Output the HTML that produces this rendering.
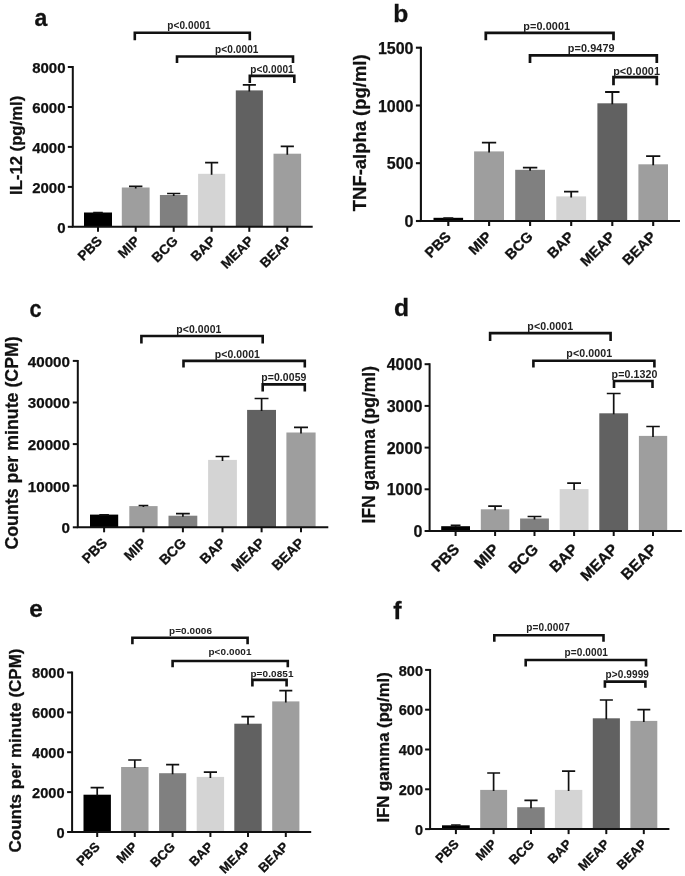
<!DOCTYPE html>
<html><head><meta charset="utf-8"><title>Figure</title>
<style>html,body{margin:0;padding:0;background:#fff}</style></head>
<body>
<svg width="685" height="876" viewBox="0 0 685 876" style="display:block">
<rect width="685" height="876" fill="#fff"/>
<g><text transform="translate(34.5,26) scale(1,1)" font-family="'Liberation Sans', sans-serif" font-weight="bold" font-size="23" fill="#111" stroke="#111" stroke-width="0.3">a</text>
<text transform="translate(22.2,145.4) rotate(-90)" text-anchor="middle" font-family="'Liberation Sans', sans-serif" font-weight="bold" font-size="16.7" fill="#111" stroke="#111" stroke-width="0.25">IL-12 (pg/ml)</text>
<rect x="84" y="212.5" width="28.0" height="14.3" fill="#000000"/>
<path d="M98.0 213.5V212.6M93.2 212.6H102.8" stroke="#111" stroke-width="1.70" fill="none"/>
<rect x="121.8" y="187.5" width="27.8" height="39.3" fill="#9e9e9e"/>
<path d="M135.7 188.5V186.3M129.0 186.3H142.4" stroke="#111" stroke-width="1.70" fill="none"/>
<rect x="159.9" y="195" width="27.6" height="31.8" fill="#808080"/>
<path d="M173.7 196.0V193.5M167.1 193.5H180.3" stroke="#111" stroke-width="1.70" fill="none"/>
<rect x="198.1" y="173.8" width="27.1" height="53.0" fill="#d4d4d4"/>
<path d="M211.6 174.8V162.7M205.1 162.7H218.2" stroke="#111" stroke-width="1.70" fill="none"/>
<rect x="235.8" y="90.4" width="27.1" height="136.4" fill="#616161"/>
<path d="M249.3 91.4V84.8M242.8 84.8H255.9" stroke="#111" stroke-width="1.70" fill="none"/>
<rect x="273.5" y="153.7" width="27.6" height="73.1" fill="#9e9e9e"/>
<path d="M287.3 154.7V146.4M280.7 146.4H293.9" stroke="#111" stroke-width="1.70" fill="none"/>
<path d="M72.8 66.0V226.8H312.7" stroke="#111" stroke-width="2.0" fill="none" stroke-linejoin="miter"/>
<path d="M67.8 226.8H72.8" stroke="#111" stroke-width="2.0"/>
<text x="65.5" y="232.6" text-anchor="end" font-family="'Liberation Sans', sans-serif" font-weight="bold" font-size="15" fill="#111" stroke="#111" stroke-width="0.25">0</text>
<path d="M67.8 186.9H72.8" stroke="#111" stroke-width="2.0"/>
<text x="65.5" y="192.6" text-anchor="end" font-family="'Liberation Sans', sans-serif" font-weight="bold" font-size="15" fill="#111" stroke="#111" stroke-width="0.25">2000</text>
<path d="M67.8 146.9H72.8" stroke="#111" stroke-width="2.0"/>
<text x="65.5" y="152.7" text-anchor="end" font-family="'Liberation Sans', sans-serif" font-weight="bold" font-size="15" fill="#111" stroke="#111" stroke-width="0.25">4000</text>
<path d="M67.8 107.0H72.8" stroke="#111" stroke-width="2.0"/>
<text x="65.5" y="112.7" text-anchor="end" font-family="'Liberation Sans', sans-serif" font-weight="bold" font-size="15" fill="#111" stroke="#111" stroke-width="0.25">6000</text>
<path d="M67.8 67.0H72.8" stroke="#111" stroke-width="2.0"/>
<text x="65.5" y="72.8" text-anchor="end" font-family="'Liberation Sans', sans-serif" font-weight="bold" font-size="15" fill="#111" stroke="#111" stroke-width="0.25">8000</text>
<path d="M98.0 226.8V231.8" stroke="#111" stroke-width="2.0"/>
<text transform="translate(103.0,241.8) rotate(-45)" text-anchor="end" font-family="'Liberation Sans', sans-serif" font-weight="bold" font-size="13.6" fill="#111" stroke="#111" stroke-width="0.3">PBS</text>
<path d="M135.7 226.8V231.8" stroke="#111" stroke-width="2.0"/>
<text transform="translate(140.7,241.8) rotate(-45)" text-anchor="end" font-family="'Liberation Sans', sans-serif" font-weight="bold" font-size="13.6" fill="#111" stroke="#111" stroke-width="0.3">MIP</text>
<path d="M173.7 226.8V231.8" stroke="#111" stroke-width="2.0"/>
<text transform="translate(178.7,241.8) rotate(-45)" text-anchor="end" font-family="'Liberation Sans', sans-serif" font-weight="bold" font-size="13.6" fill="#111" stroke="#111" stroke-width="0.3">BCG</text>
<path d="M211.6 226.8V231.8" stroke="#111" stroke-width="2.0"/>
<text transform="translate(216.6,241.8) rotate(-45)" text-anchor="end" font-family="'Liberation Sans', sans-serif" font-weight="bold" font-size="13.6" fill="#111" stroke="#111" stroke-width="0.3">BAP</text>
<path d="M249.3 226.8V231.8" stroke="#111" stroke-width="2.0"/>
<text transform="translate(254.3,241.8) rotate(-45)" text-anchor="end" font-family="'Liberation Sans', sans-serif" font-weight="bold" font-size="13.6" fill="#111" stroke="#111" stroke-width="0.3">MEAP</text>
<path d="M287.3 226.8V231.8" stroke="#111" stroke-width="2.0"/>
<text transform="translate(292.3,241.8) rotate(-45)" text-anchor="end" font-family="'Liberation Sans', sans-serif" font-weight="bold" font-size="13.6" fill="#111" stroke="#111" stroke-width="0.3">BEAP</text>
<path d="M134.8 40.3V32.8H249.8V40.3" stroke="#111" stroke-width="2.60" fill="none" stroke-linejoin="miter"/>
<text x="189" y="28.8" text-anchor="middle" font-family="'Liberation Sans', sans-serif" font-weight="bold" letter-spacing="0.1" font-size="10.05" fill="#222">p&lt;0.0001</text>
<path d="M177 63V56.5H293V63" stroke="#111" stroke-width="2.60" fill="none" stroke-linejoin="miter"/>
<text x="236.8" y="53" text-anchor="middle" font-family="'Liberation Sans', sans-serif" font-weight="bold" letter-spacing="0.1" font-size="10.05" fill="#222">p&lt;0.0001</text>
<path d="M249.8 83V75.9H294.3V83" stroke="#111" stroke-width="2.60" fill="none" stroke-linejoin="miter"/>
<text x="272" y="72.5" text-anchor="middle" font-family="'Liberation Sans', sans-serif" font-weight="bold" letter-spacing="0.1" font-size="10.05" fill="#222">p&lt;0.0001</text></g>
<g><text transform="translate(393.2,21.6) scale(1,1)" font-family="'Liberation Sans', sans-serif" font-weight="bold" font-size="24.6" fill="#111" stroke="#111" stroke-width="0.3">b</text>
<text transform="translate(366,132.8) rotate(-90)" text-anchor="middle" font-family="'Liberation Sans', sans-serif" font-weight="bold" font-size="18.45" fill="#111" stroke="#111" stroke-width="0.25">TNF-alpha (pg/ml)</text>
<rect x="433.5" y="217.8" width="29.6" height="3.2" fill="#000000"/>
<path d="M448.3 218.8V218.2M443.3 218.2H453.3" stroke="#111" stroke-width="1.78" fill="none"/>
<rect x="474.1" y="151.4" width="29.9" height="69.6" fill="#9e9e9e"/>
<path d="M489.1 152.4V142.6M481.9 142.6H496.2" stroke="#111" stroke-width="1.78" fill="none"/>
<rect x="515.2" y="169.8" width="29.8" height="51.2" fill="#808080"/>
<path d="M530.1 170.8V167.6M522.9 167.6H537.3" stroke="#111" stroke-width="1.78" fill="none"/>
<rect x="556.3" y="196.4" width="29.8" height="24.6" fill="#d4d4d4"/>
<path d="M571.2 197.4V191.7M564.0 191.7H578.4" stroke="#111" stroke-width="1.78" fill="none"/>
<rect x="597.4" y="103.3" width="29.8" height="117.7" fill="#616161"/>
<path d="M612.3 104.3V92.0M605.1 92.0H619.5" stroke="#111" stroke-width="1.78" fill="none"/>
<rect x="638.4" y="164.3" width="29.6" height="56.7" fill="#9e9e9e"/>
<path d="M653.2 165.3V156.1M646.1 156.1H660.3" stroke="#111" stroke-width="1.78" fill="none"/>
<path d="M420.9 46.7V221.0H680" stroke="#111" stroke-width="2.1" fill="none" stroke-linejoin="miter"/>
<path d="M415.9 221.0H420.9" stroke="#111" stroke-width="2.1"/>
<text x="413.5" y="227.1" text-anchor="end" font-family="'Liberation Sans', sans-serif" font-weight="bold" font-size="16" fill="#111" stroke="#111" stroke-width="0.25">0</text>
<path d="M415.9 163.2H420.9" stroke="#111" stroke-width="2.1"/>
<text x="413.5" y="169.4" text-anchor="end" font-family="'Liberation Sans', sans-serif" font-weight="bold" font-size="16" fill="#111" stroke="#111" stroke-width="0.25">500</text>
<path d="M415.9 105.5H420.9" stroke="#111" stroke-width="2.1"/>
<text x="413.5" y="111.6" text-anchor="end" font-family="'Liberation Sans', sans-serif" font-weight="bold" font-size="16" fill="#111" stroke="#111" stroke-width="0.25">1000</text>
<path d="M415.9 47.7H420.9" stroke="#111" stroke-width="2.1"/>
<text x="413.5" y="53.8" text-anchor="end" font-family="'Liberation Sans', sans-serif" font-weight="bold" font-size="16" fill="#111" stroke="#111" stroke-width="0.25">1500</text>
<path d="M448.3 221.0V226.0" stroke="#111" stroke-width="2.1"/>
<text transform="translate(451.9,237.6) rotate(-45)" text-anchor="end" font-family="'Liberation Sans', sans-serif" font-weight="bold" font-size="14.5" fill="#111" stroke="#111" stroke-width="0.3">PBS</text>
<path d="M489.1 221.0V226.0" stroke="#111" stroke-width="2.1"/>
<text transform="translate(492.7,237.6) rotate(-45)" text-anchor="end" font-family="'Liberation Sans', sans-serif" font-weight="bold" font-size="14.5" fill="#111" stroke="#111" stroke-width="0.3">MIP</text>
<path d="M530.1 221.0V226.0" stroke="#111" stroke-width="2.1"/>
<text transform="translate(533.7,237.6) rotate(-45)" text-anchor="end" font-family="'Liberation Sans', sans-serif" font-weight="bold" font-size="14.5" fill="#111" stroke="#111" stroke-width="0.3">BCG</text>
<path d="M571.2 221.0V226.0" stroke="#111" stroke-width="2.1"/>
<text transform="translate(574.8,237.6) rotate(-45)" text-anchor="end" font-family="'Liberation Sans', sans-serif" font-weight="bold" font-size="14.5" fill="#111" stroke="#111" stroke-width="0.3">BAP</text>
<path d="M612.3 221.0V226.0" stroke="#111" stroke-width="2.1"/>
<text transform="translate(615.9,237.6) rotate(-45)" text-anchor="end" font-family="'Liberation Sans', sans-serif" font-weight="bold" font-size="14.5" fill="#111" stroke="#111" stroke-width="0.3">MEAP</text>
<path d="M653.2 221.0V226.0" stroke="#111" stroke-width="2.1"/>
<text transform="translate(656.8,237.6) rotate(-45)" text-anchor="end" font-family="'Liberation Sans', sans-serif" font-weight="bold" font-size="14.5" fill="#111" stroke="#111" stroke-width="0.3">BEAP</text>
<path d="M485.8 40.3V32.8H613.5V40.3" stroke="#111" stroke-width="2.73" fill="none" stroke-linejoin="miter"/>
<text x="546.7" y="29.6" text-anchor="middle" font-family="'Liberation Sans', sans-serif" font-weight="bold" letter-spacing="0.1" font-size="10.83" fill="#222">p=0.0001</text>
<path d="M530 63V55.3H656.8V63" stroke="#111" stroke-width="2.73" fill="none" stroke-linejoin="miter"/>
<text x="591.3" y="52" text-anchor="middle" font-family="'Liberation Sans', sans-serif" font-weight="bold" letter-spacing="0.1" font-size="10.83" fill="#222">p=0.9479</text>
<path d="M613.5 85.2V77.2H656.8V85.2" stroke="#111" stroke-width="2.73" fill="none" stroke-linejoin="miter"/>
<text x="636.6" y="74.8" text-anchor="middle" font-family="'Liberation Sans', sans-serif" font-weight="bold" letter-spacing="0.1" font-size="10.83" fill="#222">p&lt;0.0001</text></g>
<g><text transform="translate(29.6,316.9) scale(0.88,1)" font-family="'Liberation Sans', sans-serif" font-weight="bold" font-size="24.6" fill="#111" stroke="#111" stroke-width="0.3">c</text>
<text transform="translate(17.5,442.9) rotate(-90)" text-anchor="middle" font-family="'Liberation Sans', sans-serif" font-weight="bold" font-size="17.8" fill="#111" stroke="#111" stroke-width="0.25">Counts per minute (CPM)</text>
<rect x="90" y="514.6" width="28.2" height="12.7" fill="#000000"/>
<path d="M104.1 515.6V514.9M99.3 514.9H108.9" stroke="#111" stroke-width="1.70" fill="none"/>
<rect x="129.3" y="506.1" width="28.3" height="21.2" fill="#9e9e9e"/>
<path d="M143.4 507.1V505.5M138.6 505.5H148.3" stroke="#111" stroke-width="1.70" fill="none"/>
<rect x="168.5" y="515.7" width="28.8" height="11.6" fill="#808080"/>
<path d="M182.9 516.7V513.7M176.0 513.7H189.8" stroke="#111" stroke-width="1.70" fill="none"/>
<rect x="208.1" y="459.9" width="28.8" height="67.4" fill="#d4d4d4"/>
<path d="M222.5 460.9V456.5M215.6 456.5H229.4" stroke="#111" stroke-width="1.70" fill="none"/>
<rect x="247.1" y="409.9" width="28.9" height="117.4" fill="#616161"/>
<path d="M261.6 410.9V398.5M254.6 398.5H268.5" stroke="#111" stroke-width="1.70" fill="none"/>
<rect x="286.4" y="432.5" width="29.2" height="94.8" fill="#9e9e9e"/>
<path d="M301.0 433.5V427.4M294.0 427.4H308.0" stroke="#111" stroke-width="1.70" fill="none"/>
<path d="M77.8 359.9V527.3H328.3" stroke="#111" stroke-width="2.0" fill="none" stroke-linejoin="miter"/>
<path d="M72.8 527.3H77.8" stroke="#111" stroke-width="2.0"/>
<text x="70" y="533.1" text-anchor="end" font-family="'Liberation Sans', sans-serif" font-weight="bold" font-size="15.2" fill="#111" stroke="#111" stroke-width="0.25">0</text>
<path d="M72.8 485.7H77.8" stroke="#111" stroke-width="2.0"/>
<text x="70" y="491.5" text-anchor="end" font-family="'Liberation Sans', sans-serif" font-weight="bold" font-size="15.2" fill="#111" stroke="#111" stroke-width="0.25">10000</text>
<path d="M72.8 444.1H77.8" stroke="#111" stroke-width="2.0"/>
<text x="70" y="449.9" text-anchor="end" font-family="'Liberation Sans', sans-serif" font-weight="bold" font-size="15.2" fill="#111" stroke="#111" stroke-width="0.25">20000</text>
<path d="M72.8 402.5H77.8" stroke="#111" stroke-width="2.0"/>
<text x="70" y="408.3" text-anchor="end" font-family="'Liberation Sans', sans-serif" font-weight="bold" font-size="15.2" fill="#111" stroke="#111" stroke-width="0.25">30000</text>
<path d="M72.8 360.9H77.8" stroke="#111" stroke-width="2.0"/>
<text x="70" y="366.7" text-anchor="end" font-family="'Liberation Sans', sans-serif" font-weight="bold" font-size="15.2" fill="#111" stroke="#111" stroke-width="0.25">40000</text>
<path d="M104.1 527.3V532.3" stroke="#111" stroke-width="2.0"/>
<text transform="translate(108.1,543.8) rotate(-45)" text-anchor="end" font-family="'Liberation Sans', sans-serif" font-weight="bold" font-size="14" fill="#111" stroke="#111" stroke-width="0.3">PBS</text>
<path d="M143.4 527.3V532.3" stroke="#111" stroke-width="2.0"/>
<text transform="translate(147.4,543.8) rotate(-45)" text-anchor="end" font-family="'Liberation Sans', sans-serif" font-weight="bold" font-size="14" fill="#111" stroke="#111" stroke-width="0.3">MIP</text>
<path d="M182.9 527.3V532.3" stroke="#111" stroke-width="2.0"/>
<text transform="translate(186.9,543.8) rotate(-45)" text-anchor="end" font-family="'Liberation Sans', sans-serif" font-weight="bold" font-size="14" fill="#111" stroke="#111" stroke-width="0.3">BCG</text>
<path d="M222.5 527.3V532.3" stroke="#111" stroke-width="2.0"/>
<text transform="translate(226.5,543.8) rotate(-45)" text-anchor="end" font-family="'Liberation Sans', sans-serif" font-weight="bold" font-size="14" fill="#111" stroke="#111" stroke-width="0.3">BAP</text>
<path d="M261.6 527.3V532.3" stroke="#111" stroke-width="2.0"/>
<text transform="translate(265.6,543.8) rotate(-45)" text-anchor="end" font-family="'Liberation Sans', sans-serif" font-weight="bold" font-size="14" fill="#111" stroke="#111" stroke-width="0.3">MEAP</text>
<path d="M301.0 527.3V532.3" stroke="#111" stroke-width="2.0"/>
<text transform="translate(305.0,543.8) rotate(-45)" text-anchor="end" font-family="'Liberation Sans', sans-serif" font-weight="bold" font-size="14" fill="#111" stroke="#111" stroke-width="0.3">BEAP</text>
<path d="M141.4 343.5V336H262.7V343.5" stroke="#111" stroke-width="2.60" fill="none" stroke-linejoin="miter"/>
<text x="198.9" y="332.6" text-anchor="middle" font-family="'Liberation Sans', sans-serif" font-weight="bold" letter-spacing="0.1" font-size="10.44" fill="#222">p&lt;0.0001</text>
<path d="M183.5 367.4V360.9H304.8V367.4" stroke="#111" stroke-width="2.60" fill="none" stroke-linejoin="miter"/>
<text x="237.4" y="357.5" text-anchor="middle" font-family="'Liberation Sans', sans-serif" font-weight="bold" letter-spacing="0.1" font-size="10.44" fill="#222">p&lt;0.0001</text>
<path d="M262.7 391.5V384.4H304.8V391.5" stroke="#111" stroke-width="2.60" fill="none" stroke-linejoin="miter"/>
<text x="283.9" y="380.7" text-anchor="middle" font-family="'Liberation Sans', sans-serif" font-weight="bold" letter-spacing="0.1" font-size="10.44" fill="#222">p=0.0059</text></g>
<g><text transform="translate(393.9,315.7) scale(1,1)" font-family="'Liberation Sans', sans-serif" font-weight="bold" font-size="24.6" fill="#111" stroke="#111" stroke-width="0.3">d</text>
<text transform="translate(375.4,444.7) rotate(-90)" text-anchor="middle" font-family="'Liberation Sans', sans-serif" font-weight="bold" font-size="17.5" fill="#111" stroke="#111" stroke-width="0.25">IFN gamma (pg/ml)</text>
<rect x="441.2" y="526.2" width="28.8" height="4.8" fill="#000000"/>
<path d="M455.6 527.2V525.3M450.7 525.3H460.5" stroke="#111" stroke-width="1.70" fill="none"/>
<rect x="480.8" y="509.3" width="28.5" height="21.7" fill="#9e9e9e"/>
<path d="M495.1 510.3V506.1M488.2 506.1H501.9" stroke="#111" stroke-width="1.70" fill="none"/>
<rect x="520.1" y="518.5" width="28.8" height="12.5" fill="#808080"/>
<path d="M534.5 519.5V516.5M527.6 516.5H541.4" stroke="#111" stroke-width="1.70" fill="none"/>
<rect x="559.7" y="489.1" width="28.8" height="41.9" fill="#d4d4d4"/>
<path d="M574.1 490.1V483.1M567.2 483.1H581.0" stroke="#111" stroke-width="1.70" fill="none"/>
<rect x="599.3" y="413.3" width="28.8" height="117.7" fill="#616161"/>
<path d="M613.7 414.3V393.5M606.8 393.5H620.6" stroke="#111" stroke-width="1.70" fill="none"/>
<rect x="638.9" y="435.9" width="28.3" height="95.1" fill="#9e9e9e"/>
<path d="M653.0 436.9V426.5M646.3 426.5H659.8" stroke="#111" stroke-width="1.70" fill="none"/>
<path d="M429.6 363.2V531.0H681.9" stroke="#111" stroke-width="2.0" fill="none" stroke-linejoin="miter"/>
<path d="M424.6 531.0H429.6" stroke="#111" stroke-width="2.0"/>
<text x="422.3" y="537.1" text-anchor="end" font-family="'Liberation Sans', sans-serif" font-weight="bold" font-size="16" fill="#111" stroke="#111" stroke-width="0.25">0</text>
<path d="M424.6 489.3H429.6" stroke="#111" stroke-width="2.0"/>
<text x="422.3" y="495.4" text-anchor="end" font-family="'Liberation Sans', sans-serif" font-weight="bold" font-size="16" fill="#111" stroke="#111" stroke-width="0.25">1000</text>
<path d="M424.6 447.6H429.6" stroke="#111" stroke-width="2.0"/>
<text x="422.3" y="453.7" text-anchor="end" font-family="'Liberation Sans', sans-serif" font-weight="bold" font-size="16" fill="#111" stroke="#111" stroke-width="0.25">2000</text>
<path d="M424.6 405.9H429.6" stroke="#111" stroke-width="2.0"/>
<text x="422.3" y="412.0" text-anchor="end" font-family="'Liberation Sans', sans-serif" font-weight="bold" font-size="16" fill="#111" stroke="#111" stroke-width="0.25">3000</text>
<path d="M424.6 364.2H429.6" stroke="#111" stroke-width="2.0"/>
<text x="422.3" y="370.3" text-anchor="end" font-family="'Liberation Sans', sans-serif" font-weight="bold" font-size="16" fill="#111" stroke="#111" stroke-width="0.25">4000</text>
<path d="M455.6 531.0V536.0" stroke="#111" stroke-width="2.0"/>
<text transform="translate(460.4,550.2) rotate(-45)" text-anchor="end" font-family="'Liberation Sans', sans-serif" font-weight="bold" font-size="15.5" fill="#111" stroke="#111" stroke-width="0.3">PBS</text>
<path d="M495.1 531.0V536.0" stroke="#111" stroke-width="2.0"/>
<text transform="translate(499.9,550.2) rotate(-45)" text-anchor="end" font-family="'Liberation Sans', sans-serif" font-weight="bold" font-size="15.5" fill="#111" stroke="#111" stroke-width="0.3">MIP</text>
<path d="M534.5 531.0V536.0" stroke="#111" stroke-width="2.0"/>
<text transform="translate(539.3,550.2) rotate(-45)" text-anchor="end" font-family="'Liberation Sans', sans-serif" font-weight="bold" font-size="15.5" fill="#111" stroke="#111" stroke-width="0.3">BCG</text>
<path d="M574.1 531.0V536.0" stroke="#111" stroke-width="2.0"/>
<text transform="translate(578.9,550.2) rotate(-45)" text-anchor="end" font-family="'Liberation Sans', sans-serif" font-weight="bold" font-size="15.5" fill="#111" stroke="#111" stroke-width="0.3">BAP</text>
<path d="M613.7 531.0V536.0" stroke="#111" stroke-width="2.0"/>
<text transform="translate(618.5,550.2) rotate(-45)" text-anchor="end" font-family="'Liberation Sans', sans-serif" font-weight="bold" font-size="15.5" fill="#111" stroke="#111" stroke-width="0.3">MEAP</text>
<path d="M653.0 531.0V536.0" stroke="#111" stroke-width="2.0"/>
<text transform="translate(657.8,550.2) rotate(-45)" text-anchor="end" font-family="'Liberation Sans', sans-serif" font-weight="bold" font-size="15.5" fill="#111" stroke="#111" stroke-width="0.3">BEAP</text>
<path d="M490.1 341V333.1H610.6V341" stroke="#111" stroke-width="2.60" fill="none" stroke-linejoin="miter"/>
<text x="550.3" y="329.8" text-anchor="middle" font-family="'Liberation Sans', sans-serif" font-weight="bold" letter-spacing="0.1" font-size="10.64" fill="#222">p&lt;0.0001</text>
<path d="M533.4 367.6V360.7H654.4V367.6" stroke="#111" stroke-width="2.60" fill="none" stroke-linejoin="miter"/>
<text x="589.3" y="356.7" text-anchor="middle" font-family="'Liberation Sans', sans-serif" font-weight="bold" letter-spacing="0.1" font-size="10.64" fill="#222">p&lt;0.0001</text>
<path d="M614 388V381H652.5V388" stroke="#111" stroke-width="2.60" fill="none" stroke-linejoin="miter"/>
<text x="634.6" y="377.9" text-anchor="middle" font-family="'Liberation Sans', sans-serif" font-weight="bold" letter-spacing="0.1" font-size="10.64" fill="#222">p=0.1320</text></g>
<g><text transform="translate(29.3,616.9) scale(1,1)" font-family="'Liberation Sans', sans-serif" font-weight="bold" font-size="24.4" fill="#111" stroke="#111" stroke-width="0.3">e</text>
<text transform="translate(21,750.5) rotate(-90)" text-anchor="middle" font-family="'Liberation Sans', sans-serif" font-weight="bold" font-size="17" fill="#111" stroke="#111" stroke-width="0.25">Counts per minute (CPM)</text>
<rect x="83.5" y="794.7" width="27.4" height="37.3" fill="#000000"/>
<path d="M97.2 795.7V787.7M90.6 787.7H103.8" stroke="#111" stroke-width="1.70" fill="none"/>
<rect x="121.1" y="767" width="27.4" height="65.0" fill="#9e9e9e"/>
<path d="M134.8 768.0V760.0M128.2 760.0H141.4" stroke="#111" stroke-width="1.70" fill="none"/>
<rect x="159.1" y="773.2" width="27.1" height="58.8" fill="#808080"/>
<path d="M172.6 774.2V764.7M166.1 764.7H179.2" stroke="#111" stroke-width="1.70" fill="none"/>
<rect x="196.7" y="776.9" width="27.4" height="55.1" fill="#d4d4d4"/>
<path d="M210.4 777.9V772.1M203.8 772.1H217.0" stroke="#111" stroke-width="1.70" fill="none"/>
<rect x="234.3" y="723.7" width="27.4" height="108.3" fill="#616161"/>
<path d="M248.0 724.7V716.6M241.4 716.6H254.6" stroke="#111" stroke-width="1.70" fill="none"/>
<rect x="272.2" y="701.4" width="27.2" height="130.6" fill="#9e9e9e"/>
<path d="M285.8 702.4V690.6M279.3 690.6H292.3" stroke="#111" stroke-width="1.70" fill="none"/>
<path d="M72.1 671.5V832.0H311.2" stroke="#111" stroke-width="2.0" fill="none" stroke-linejoin="miter"/>
<path d="M67.1 832.0H72.1" stroke="#111" stroke-width="2.0"/>
<text x="64.5" y="837.6" text-anchor="end" font-family="'Liberation Sans', sans-serif" font-weight="bold" font-size="14.6" fill="#111" stroke="#111" stroke-width="0.25">0</text>
<path d="M67.1 792.1H72.1" stroke="#111" stroke-width="2.0"/>
<text x="64.5" y="797.8" text-anchor="end" font-family="'Liberation Sans', sans-serif" font-weight="bold" font-size="14.6" fill="#111" stroke="#111" stroke-width="0.25">2000</text>
<path d="M67.1 752.2H72.1" stroke="#111" stroke-width="2.0"/>
<text x="64.5" y="757.9" text-anchor="end" font-family="'Liberation Sans', sans-serif" font-weight="bold" font-size="14.6" fill="#111" stroke="#111" stroke-width="0.25">4000</text>
<path d="M67.1 712.4H72.1" stroke="#111" stroke-width="2.0"/>
<text x="64.5" y="718.0" text-anchor="end" font-family="'Liberation Sans', sans-serif" font-weight="bold" font-size="14.6" fill="#111" stroke="#111" stroke-width="0.25">6000</text>
<path d="M67.1 672.5H72.1" stroke="#111" stroke-width="2.0"/>
<text x="64.5" y="678.1" text-anchor="end" font-family="'Liberation Sans', sans-serif" font-weight="bold" font-size="14.6" fill="#111" stroke="#111" stroke-width="0.25">8000</text>
<path d="M97.2 832.0V837.0" stroke="#111" stroke-width="2.0"/>
<text transform="translate(100.6,847.6) rotate(-45)" text-anchor="end" font-family="'Liberation Sans', sans-serif" font-weight="bold" font-size="13" fill="#111" stroke="#111" stroke-width="0.3">PBS</text>
<path d="M134.8 832.0V837.0" stroke="#111" stroke-width="2.0"/>
<text transform="translate(138.2,847.6) rotate(-45)" text-anchor="end" font-family="'Liberation Sans', sans-serif" font-weight="bold" font-size="13" fill="#111" stroke="#111" stroke-width="0.3">MIP</text>
<path d="M172.6 832.0V837.0" stroke="#111" stroke-width="2.0"/>
<text transform="translate(176.0,847.6) rotate(-45)" text-anchor="end" font-family="'Liberation Sans', sans-serif" font-weight="bold" font-size="13" fill="#111" stroke="#111" stroke-width="0.3">BCG</text>
<path d="M210.4 832.0V837.0" stroke="#111" stroke-width="2.0"/>
<text transform="translate(213.8,847.6) rotate(-45)" text-anchor="end" font-family="'Liberation Sans', sans-serif" font-weight="bold" font-size="13" fill="#111" stroke="#111" stroke-width="0.3">BAP</text>
<path d="M248.0 832.0V837.0" stroke="#111" stroke-width="2.0"/>
<text transform="translate(251.4,847.6) rotate(-45)" text-anchor="end" font-family="'Liberation Sans', sans-serif" font-weight="bold" font-size="13" fill="#111" stroke="#111" stroke-width="0.3">MEAP</text>
<path d="M285.8 832.0V837.0" stroke="#111" stroke-width="2.0"/>
<text transform="translate(289.2,847.6) rotate(-45)" text-anchor="end" font-family="'Liberation Sans', sans-serif" font-weight="bold" font-size="13" fill="#111" stroke="#111" stroke-width="0.3">BEAP</text>
<path d="M132.4 644.2V637.7H247.6V644.2" stroke="#111" stroke-width="2.60" fill="none" stroke-linejoin="miter"/>
<text x="190.6" y="633.5" text-anchor="middle" font-family="'Liberation Sans', sans-serif" font-weight="bold" letter-spacing="0.1" font-size="9.95" fill="#222">p=0.0006</text>
<path d="M172.6 667.3V661H287.8V667.3" stroke="#111" stroke-width="2.60" fill="none" stroke-linejoin="miter"/>
<text x="230" y="655.3" text-anchor="middle" font-family="'Liberation Sans', sans-serif" font-weight="bold" letter-spacing="0.1" font-size="9.95" fill="#222">p&lt;0.0001</text>
<path d="M252.4 686.4V679.9H286.6V686.4" stroke="#111" stroke-width="2.60" fill="none" stroke-linejoin="miter"/>
<text x="272" y="677.3" text-anchor="middle" font-family="'Liberation Sans', sans-serif" font-weight="bold" letter-spacing="0.1" font-size="9.95" fill="#222">p=0.0851</text></g>
<g><text transform="translate(393.2,618.6) scale(1,1)" font-family="'Liberation Sans', sans-serif" font-weight="bold" font-size="24.8" fill="#111" stroke="#111" stroke-width="0.3">f</text>
<text transform="translate(388.5,747.4) rotate(-90)" text-anchor="middle" font-family="'Liberation Sans', sans-serif" font-weight="bold" font-size="16.7" fill="#111" stroke="#111" stroke-width="0.25">IFN gamma (pg/ml)</text>
<rect x="442" y="825.3" width="27.7" height="3.8" fill="#000000"/>
<path d="M455.9 826.3V825.0M451.1 825.0H460.6" stroke="#111" stroke-width="1.70" fill="none"/>
<rect x="480.2" y="789.9" width="26.9" height="39.2" fill="#9e9e9e"/>
<path d="M493.6 790.9V773.0M487.2 773.0H500.1" stroke="#111" stroke-width="1.70" fill="none"/>
<rect x="517.2" y="807.2" width="27.5" height="21.9" fill="#808080"/>
<path d="M531.0 808.2V800.4M524.4 800.4H537.6" stroke="#111" stroke-width="1.70" fill="none"/>
<rect x="554.9" y="789.9" width="27.4" height="39.2" fill="#d4d4d4"/>
<path d="M568.6 790.9V771.2M562.0 771.2H575.2" stroke="#111" stroke-width="1.70" fill="none"/>
<rect x="592.8" y="718.3" width="27.1" height="110.8" fill="#616161"/>
<path d="M606.3 719.3V700.0M599.8 700.0H612.9" stroke="#111" stroke-width="1.70" fill="none"/>
<rect x="630.4" y="720.9" width="26.9" height="108.2" fill="#9e9e9e"/>
<path d="M643.8 721.9V709.6M637.4 709.6H650.3" stroke="#111" stroke-width="1.70" fill="none"/>
<path d="M430.1 668.9V829.1H669.4" stroke="#111" stroke-width="2.0" fill="none" stroke-linejoin="miter"/>
<path d="M425.1 829.1H430.1" stroke="#111" stroke-width="2.0"/>
<text x="423" y="834.7" text-anchor="end" font-family="'Liberation Sans', sans-serif" font-weight="bold" font-size="14.5" fill="#111" stroke="#111" stroke-width="0.25">0</text>
<path d="M425.1 789.3H430.1" stroke="#111" stroke-width="2.0"/>
<text x="423" y="794.9" text-anchor="end" font-family="'Liberation Sans', sans-serif" font-weight="bold" font-size="14.5" fill="#111" stroke="#111" stroke-width="0.25">200</text>
<path d="M425.1 749.5H430.1" stroke="#111" stroke-width="2.0"/>
<text x="423" y="755.1" text-anchor="end" font-family="'Liberation Sans', sans-serif" font-weight="bold" font-size="14.5" fill="#111" stroke="#111" stroke-width="0.25">400</text>
<path d="M425.1 709.7H430.1" stroke="#111" stroke-width="2.0"/>
<text x="423" y="715.3" text-anchor="end" font-family="'Liberation Sans', sans-serif" font-weight="bold" font-size="14.5" fill="#111" stroke="#111" stroke-width="0.25">600</text>
<path d="M425.1 669.9H430.1" stroke="#111" stroke-width="2.0"/>
<text x="423" y="675.5" text-anchor="end" font-family="'Liberation Sans', sans-serif" font-weight="bold" font-size="14.5" fill="#111" stroke="#111" stroke-width="0.25">800</text>
<path d="M455.9 829.1V834.1" stroke="#111" stroke-width="2.0"/>
<text transform="translate(459.7,844.9) rotate(-45)" text-anchor="end" font-family="'Liberation Sans', sans-serif" font-weight="bold" font-size="13" fill="#111" stroke="#111" stroke-width="0.3">PBS</text>
<path d="M493.6 829.1V834.1" stroke="#111" stroke-width="2.0"/>
<text transform="translate(497.4,844.9) rotate(-45)" text-anchor="end" font-family="'Liberation Sans', sans-serif" font-weight="bold" font-size="13" fill="#111" stroke="#111" stroke-width="0.3">MIP</text>
<path d="M531.0 829.1V834.1" stroke="#111" stroke-width="2.0"/>
<text transform="translate(534.8,844.9) rotate(-45)" text-anchor="end" font-family="'Liberation Sans', sans-serif" font-weight="bold" font-size="13" fill="#111" stroke="#111" stroke-width="0.3">BCG</text>
<path d="M568.6 829.1V834.1" stroke="#111" stroke-width="2.0"/>
<text transform="translate(572.4,844.9) rotate(-45)" text-anchor="end" font-family="'Liberation Sans', sans-serif" font-weight="bold" font-size="13" fill="#111" stroke="#111" stroke-width="0.3">BAP</text>
<path d="M606.3 829.1V834.1" stroke="#111" stroke-width="2.0"/>
<text transform="translate(610.1,844.9) rotate(-45)" text-anchor="end" font-family="'Liberation Sans', sans-serif" font-weight="bold" font-size="13" fill="#111" stroke="#111" stroke-width="0.3">MEAP</text>
<path d="M643.8 829.1V834.1" stroke="#111" stroke-width="2.0"/>
<text transform="translate(647.6,844.9) rotate(-45)" text-anchor="end" font-family="'Liberation Sans', sans-serif" font-weight="bold" font-size="13" fill="#111" stroke="#111" stroke-width="0.3">BEAP</text>
<path d="M494.3 641.8V635.2H603.5V641.8" stroke="#111" stroke-width="2.60" fill="none" stroke-linejoin="miter"/>
<text x="548.1" y="630.7" text-anchor="middle" font-family="'Liberation Sans', sans-serif" font-weight="bold" letter-spacing="0.1" font-size="10.05" fill="#222">p=0.0007</text>
<path d="M525.7 666.6V660H646V666.6" stroke="#111" stroke-width="2.60" fill="none" stroke-linejoin="miter"/>
<text x="586.3" y="656.1" text-anchor="middle" font-family="'Liberation Sans', sans-serif" font-weight="bold" letter-spacing="0.1" font-size="10.05" fill="#222">p=0.0001</text>
<path d="M604.9 687.8V681.6H645.4V687.8" stroke="#111" stroke-width="2.60" fill="none" stroke-linejoin="miter"/>
<text x="627.3" y="677.9" text-anchor="middle" font-family="'Liberation Sans', sans-serif" font-weight="bold" letter-spacing="0.1" font-size="10.05" fill="#222">p&gt;0.9999</text></g>
</svg>
</body></html>
